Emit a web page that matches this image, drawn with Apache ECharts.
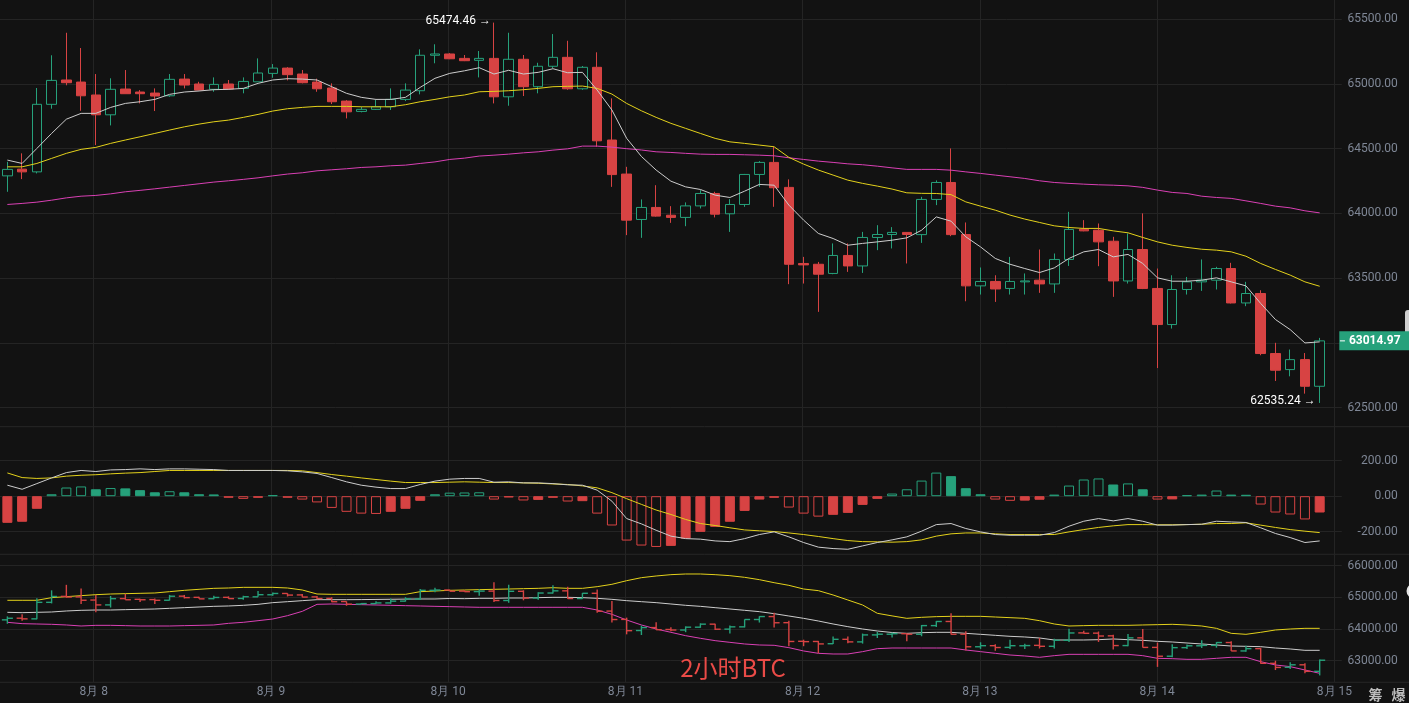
<!DOCTYPE html>
<html><head><meta charset="utf-8">
<script src="https://cdn.jsdelivr.net/npm/echarts@6/dist/echarts.min.js"></script>
<style>html,body{margin:0;padding:0;background:#121212;}#c{width:1409px;height:703px;}</style>
</head><body><div id="c"></div>
<script>
// ---------- DATA ----------
const dayLabels = ['8月 8','8月 9','8月 10','8月 11','8月 12','8月 13','8月 14','8月 15'];
const candleSlots = Array.from({length: 91}, (_, i) => String(i));

const open = [64290,64342,64321,64843,65031,65015,64915,64762,64961,64938,
64930,64909,65038,65000,64959,65000,64966,65017,65082,65123,
65077,65015,64969,64868,64788,64804,64824,64881,64948,65222,
65232,65198,65183,65198,64901,65191,64979,65137,65206,64963,
65129,64567,64304,63953,64046,63986,63969,64058,64154,63997,
64069,64301,64394,64201,63613,63607,63536,63675,63594,63814,
63837,63853,63836,64108,64239,63837,63440,63474,63420,63471,
63484,63455,63644,63878,63870,63785,63478,63721,63420,63141,
63412,63471,63484,63574,63308,63381,62917,62793,62870,62664];
const close = [64340,64321,64843,65028,65010,64909,64762,64959,64925,64925,
64907,65036,64992,64953,64997,64961,65020,65085,65123,65072,
65010,64963,64863,64785,64804,64824,64881,64953,65222,65232,
65195,65180,65198,64901,65191,64979,65137,65206,64963,65129,
64561,64300,63948,64046,63979,63969,64058,64154,63994,64069,
64301,64394,64198,63607,63602,63530,63675,63594,63814,63837,
63853,63837,64108,64239,63836,63440,63474,63416,63474,63478,
63455,63644,63876,63865,63780,63478,63721,63420,63141,63412,
63471,63484,63574,63308,63381,62917,62788,62870,62664,63014.97];
const low = [64167,64265,64309,64809,64990,64793,64528,64680,64925,64850,
64791,64901,64966,64953,64940,64955,64928,65017,65048,65028,
65005,64940,64845,64734,64781,64799,64799,64868,64920,65160,
65192,65177,65051,64850,64832,64907,64928,65123,64955,64955,
64515,64205,63832,63811,63975,63927,63901,64038,63969,63857,
64051,64205,64051,63453,63458,63239,63530,63548,63540,63716,
63729,63613,63772,64064,63824,63321,63373,63316,63373,63373,
63386,63386,63594,63862,63592,63355,63458,63415,62805,63110,
63373,63401,63412,63304,63283,62904,62705,62741,62607,62535.24];
const high = [64399,64464,64969,65222,65396,65278,65077,65044,65108,64953,
64966,65077,65077,65017,65051,65031,65051,65198,65154,65130,
65108,65041,65005,64875,64824,64876,64966,65005,65268,65307,
65239,65224,65255,65474.46,65396,65224,65164,65386,65334,65139,
65245,64889,64360,64108,64218,64056,64085,64180,64167,64110,
64305,64404,64515,64263,63664,63625,63768,63768,63857,63909,
63894,63855,64128,64255,64502,63930,63582,63522,63664,63536,
63721,63690,64012,63948,63922,63819,63845,64000,63574,63522,
63509,63644,63587,63618,63471,63406,63000,62948,62921,63038];

const maShort = [64412,64386,64502,64618,64728,64773,64773,64819,64850,64863,
64881,64920,64938,64946,64956,64959,64966,65005,65031,65041,
65038,65031,64979,64928,64897,64881,64881,64897,64974,65044,
65082,65102,65126,65077,65106,65077,65090,65118,65087,65090,
64953,64799,64580,64440,64335,64249,64205,64185,64141,64123,
64172,64224,64218,64064,63948,63845,63806,63754,63768,63780,
63793,63811,63870,63973,63940,63819,63741,63652,63607,63574,
63543,63579,63652,63703,63721,63664,63683,63613,63502,63476,
63476,63484,63502,63471,63440,63304,63180,63102,62999,63007];
const maMid = [64360,64360,64386,64425,64464,64495,64510,64541,64567,64592,
64618,64644,64669,64690,64708,64721,64742,64765,64791,64809,
64819,64827,64827,64827,64824,64824,64824,64840,64863,64881,
64901,64915,64940,64943,64948,64956,64966,64979,64982,64984,
64966,64922,64850,64793,64742,64696,64657,64618,64580,64553,
64541,64528,64515,64433,64381,64335,64296,64257,64232,64211,
64188,64159,64155,64154,64145,64089,64056,64025,63987,63956,
63930,63904,63891,63884,63884,63865,63850,63814,63780,63754,
63737,63723,63716,63703,63669,63613,63567,63523,63471,63437];
const maLong = [64069,64077,64087,64102,64120,64133,64139,64151,64167,64178,
64190,64203,64216,64229,64242,64252,64263,64275,64290,64304,
64314,64329,64337,64345,64355,64360,64368,64373,64386,64398,
64417,64427,64443,64450,64458,64468,64476,64489,64499,64520,
64520,64512,64500,64490,64476,64471,64464,64458,64456,64456,
64453,64450,64445,64430,64417,64404,64394,64383,64376,64365,
64352,64340,64340,64340,64334,64321,64309,64296,64283,64270,
64252,64239,64232,64226,64221,64218,64213,64201,64180,64162,
64154,64133,64123,64116,64097,64077,64056,64043,64020,64004];

const macdHist = [-150,-144,-71,11,49,55,39,46,44,34,
22,28,22,11,10,-9,-15,-9,6,-9,
-19,-35,-66,-88,-98,-100,-88,-71,-26,11,
20,21,22,-19,-7,-24,-21,-9,-30,-28,
-98,-165,-250,-278,-286,-280,-239,-201,-173,-144,
-83,-19,-9,-64,-98,-115,-105,-94,-49,-15,
15,39,88,133,113,45,11,-19,-26,-25,
-20,9,60,94,100,66,72,39,-19,-18,
6,9,32,9,8,-47,-92,-103,-131,-92];
const macdDif = [62,39,71,103,133,145,139,148,150,154,
150,154,154,152,150,145,145,145,145,143,
137,128,105,81,62,51,43,43,66,85,
96,100,100,79,81,75,75,71,64,62,
34,-28,-126,-156,-192,-225,-239,-242,-252,-256,
-239,-216,-201,-229,-261,-287,-295,-299,-280,-261,
-246,-229,-197,-160,-154,-182,-201,-216,-220,-220,
-220,-205,-169,-141,-126,-139,-126,-141,-163,-163,
-160,-158,-141,-145,-148,-178,-210,-233,-261,-252];
const macdDea = [131,105,100,103,113,118,121,126,130,133,
139,145,145,145,145,145,145,145,145,145,
143,133,122,113,103,94,85,77,77,77,
79,81,79,77,77,75,73,69,66,58,
47,20,-14,-46,-78,-103,-131,-154,-165,-178,
-190,-195,-199,-207,-216,-227,-239,-250,-256,-257,
-259,-256,-246,-225,-212,-207,-207,-212,-216,-216,
-216,-216,-201,-188,-176,-167,-160,-160,-161,-161,
-160,-158,-154,-154,-150,-163,-176,-188,-197,-205];

const bollUpper = [64907,64907,64907,64991,65022,65054,65085,65106,65117,65128,
65138,65180,65222,65254,65285,65296,65317,65317,65317,65296,
65233,65106,65096,65096,65096,65096,65096,65096,65180,65201,
65222,65233,65243,65254,65264,65275,65285,65306,65285,65285,
65338,65412,65527,65622,65675,65717,65738,65738,65717,65685,
65633,65559,65464,65380,65264,65212,65075,64917,64759,64496,
64415,64338,64370,64391,64401,64401,64401,64380,64359,64338,
64264,64159,64096,64107,64117,64117,64117,64128,64138,64149,
64128,64096,64022,63864,63833,63896,63970,64001,64022,64022];
const bollMid = [64528,64517,64528,64538,64570,64591,64601,64601,64612,64622,
64633,64654,64675,64696,64717,64728,64749,64780,64833,64864,
64896,64927,64927,64927,64930,64935,64940,64945,64949,64949,
64965,64959,64970,64970,64980,64980,64991,65001,65001,64991,
64970,64938,64896,64864,64833,64791,64749,64717,64675,64633,
64591,64549,64485,64412,64338,64254,64159,64075,64001,63938,
63890,63864,63885,63896,63896,63864,63833,63801,63770,63749,
63717,63654,63654,63654,63664,63686,63664,63643,63612,63591,
63559,63528,63496,63464,63454,63443,63401,63370,63328,63328];
const bollLower = [64212,64170,64159,64149,64128,64096,64117,64117,64107,64096,
64096,64096,64107,64117,64128,64180,64212,64264,64317,64422,
64559,64780,64791,64780,64770,64759,64749,64738,64728,64717,
64707,64696,64686,64686,64686,64686,64686,64686,64686,64686,
64601,64464,64285,64128,64001,63896,63790,63707,63633,63580,
63528,63496,63486,63412,63307,63233,63212,63212,63286,63380,
63401,63401,63401,63401,63401,63338,63286,63233,63180,63149,
63107,63159,63201,63201,63201,63201,63201,63159,63075,63064,
63043,63043,63075,63107,63107,62970,62865,62812,62707,62601];

const highMark = 65474.46, lowMark = 62535.24, lastPrice = 63014.97;

// ---------- STYLE ----------
const UP = '#26a17b', DOWN = '#d74343', BG = '#121212', GRID = '#242424', LBL = '#7f8796';
const C_WHITE = '#cccccc', C_YEL = '#e3d11b', C_MAG = '#d940b4';

const chart = echarts.init(document.getElementById('c'), null, {renderer: 'canvas'});

const catAxis = gi => ({gridIndex: gi, type: 'category', data: candleSlots, boundaryGap: true, show: false});
const valAxis = (gi, mn, mx, iv) => ({
  gridIndex: gi, type: 'value', position: 'right', min: mn, max: mx, interval: iv,
  axisLine: {show: false}, axisTick: {show: false},
  axisLabel: {color: LBL, fontSize: 12, fontFamily: 'Roboto', align: 'right', margin: 56,
    formatter: v => v.toFixed(2)},
  splitLine: {show: true, lineStyle: {color: GRID, width: 1}}
});
const lineS = (xi, data, color, extra) => Object.assign({
  type: 'line', xAxisIndex: xi, yAxisIndex: xi, data: data, symbol: 'none', showSymbol: false,
  lineStyle: {color: color, width: 1}, itemStyle: {color: color}, silent: true, clip: false, z: 5,
  animation: false
}, extra || {});

const histData = macdHist.map((v, i) => {
  const prev = i > 0 ? macdHist[i - 1] : v;
  const col = v >= 0 ? UP : DOWN;
  const hollow = i > 0 && (v >= 0 ? v > prev : v < prev);
  return {value: v, itemStyle: {color: hollow ? 'rgba(0,0,0,0)' : col, borderColor: col, borderWidth: 1}};
});

const ohlc = open.map((o, i) => [i, o, close[i], low[i], high[i]]);

const grids = [
  {left: -2.3, right: 67.2, top: 19.3, height: 388.2},
  {left: -2.3, right: 67.2, top: 460.7, height: 71},
  {left: -2.3, right: 67.2, top: 565.7, height: 95},
  {left: 93.7, right: 74.6, top: 0, bottom: 20.7}
];

const option = {
  backgroundColor: BG,
  animation: false,
  grid: grids,
  xAxis: [catAxis(0), catAxis(1), catAxis(2),
    {gridIndex: 3, type: 'value', min: 0, max: 7, interval: 1,
     axisLine: {show: false}, axisTick: {show: false},
     axisLabel: {color: LBL, fontSize: 12, fontFamily: 'Roboto', margin: 4, formatter: v => dayLabels[v]},
     splitLine: {show: true, lineStyle: {color: GRID, width: 1}}}],
  yAxis: [valAxis(0, 62500, 65500, 500), valAxis(1, -200, 200, 200), valAxis(2, 63000, 66000, 1000),
    {gridIndex: 3, type: 'value', min: 0, max: 1, show: false}],
  series: [
    {
      type: 'candlestick', xAxisIndex: 0, yAxisIndex: 0, barWidth: 10, z: 3,
      data: open.map((o, i) => [o, close[i], low[i], high[i]]),
      itemStyle: {color: BG, color0: DOWN, borderColor: UP, borderColor0: DOWN, borderWidth: 1},
      markPoint: {
        silent: true, animation: false,
        data: [
          {coord: [33, highMark], symbol: 'circle', symbolSize: 0,
           label: {show: true, position: 'left', distance: 3, offset: [0, -2], formatter: highMark.toFixed(2) + ' →',
             color: '#ffffff', fontSize: 12, fontFamily: 'Roboto'}},
          {coord: [89, lowMark], symbol: 'circle', symbolSize: 0,
           label: {show: true, position: 'left', distance: 4, offset: [0, -2], formatter: lowMark.toFixed(2) + ' →',
             color: '#ffffff', fontSize: 12, fontFamily: 'Roboto'}},
          {coord: [89, lastPrice], symbol: 'rect', symbolSize: [70, 19], symbolOffset: [54.6, 0],
           itemStyle: {color: UP},
           label: {show: true, position: 'inside', offset: [-4, 0], formatter: '{d|}{t|' + lastPrice.toFixed(2) + '}',
             rich: {d: {width: 5, height: 1, backgroundColor: '#ffffff'},
                    t: {color: '#ffffff', fontSize: 12, fontWeight: 'bold', fontFamily: 'Roboto', padding: [0, 0, 0, 4]}}}}
        ]
      }
    },
    lineS(0, maLong, C_MAG),
    lineS(0, maMid, C_YEL),
    lineS(0, maShort, C_WHITE),
    {type: 'bar', xAxisIndex: 1, yAxisIndex: 1, data: histData, barWidth: 10, clip: false, silent: true, z: 3},
    lineS(1, macdDea, C_YEL),
    lineS(1, macdDif, C_WHITE),
    lineS(2, bollLower, C_MAG),
    lineS(2, bollMid, C_WHITE),
    lineS(2, bollUpper, C_YEL),
    {
      type: 'custom', xAxisIndex: 2, yAxisIndex: 2, data: ohlc, clip: false, silent: true, z: 6,
      encode: {x: 0, y: [1, 2, 3, 4]},
      renderItem: function (params, api) {
        const i = api.value(0);
        const o = api.coord([i, api.value(1)]);
        const c = api.coord([i, api.value(2)]);
        const l = api.coord([i, api.value(3)]);
        const h = api.coord([i, api.value(4)]);
        const x = o[0], hw = 5.5;
        const col = api.value(2) >= api.value(1) ? UP : DOWN;
        const st = {stroke: col, lineWidth: 1.4};
        return {type: 'group', children: [
          {type: 'line', shape: {x1: x, y1: h[1], x2: x, y2: l[1]}, style: st},
          {type: 'line', shape: {x1: x - hw, y1: o[1], x2: x, y2: o[1]}, style: st},
          {type: 'line', shape: {x1: x, y1: c[1], x2: x + hw, y2: c[1]}, style: st}
        ]};
      }
    }
  ],
  graphic: [
    {type: 'line', shape: {x1: 0, y1: 426.7, x2: 1409, y2: 426.7}, style: {stroke: '#272727', lineWidth: 1}, silent: true},
    {type: 'line', shape: {x1: 0, y1: 554.3, x2: 1409, y2: 554.3}, style: {stroke: '#272727', lineWidth: 1}, silent: true},
    {type: 'line', shape: {x1: 0, y1: 682.3, x2: 1409, y2: 682.3}, style: {stroke: '#272727', lineWidth: 1}, silent: true},
    {type: 'text', x: 733, y: 667.5, silent: true, z: 10,
     style: {text: '2小时BTC', fill: '#ea4b47', fontSize: 24, fontFamily: 'Noto Sans CJK SC', align: 'center', verticalAlign: 'middle'}},
    {type: 'text', x: 1375.5, y: 695, silent: true,
     style: {text: '筹', fill: '#bcbcbc', fontSize: 14, fontWeight: 'bold', fontFamily: 'Noto Sans CJK SC', align: 'center', verticalAlign: 'middle'}},
    {type: 'text', x: 1398.5, y: 695, silent: true,
     style: {text: '爆', fill: '#bcbcbc', fontSize: 14, fontWeight: 'bold', fontFamily: 'Noto Sans CJK SC', align: 'center', verticalAlign: 'middle'}},
    {type: 'rect', shape: {x: 1405, y: 310, width: 10, height: 27, r: 3}, style: {fill: '#cfcfcf'}, silent: true},
    {type: 'circle', shape: {cx: 1414, cy: 591, r: 7.5}, style: {fill: '#e6e6e6'}, silent: true}
  ]
};
chart.setOption(option);
</script>
</body></html>
